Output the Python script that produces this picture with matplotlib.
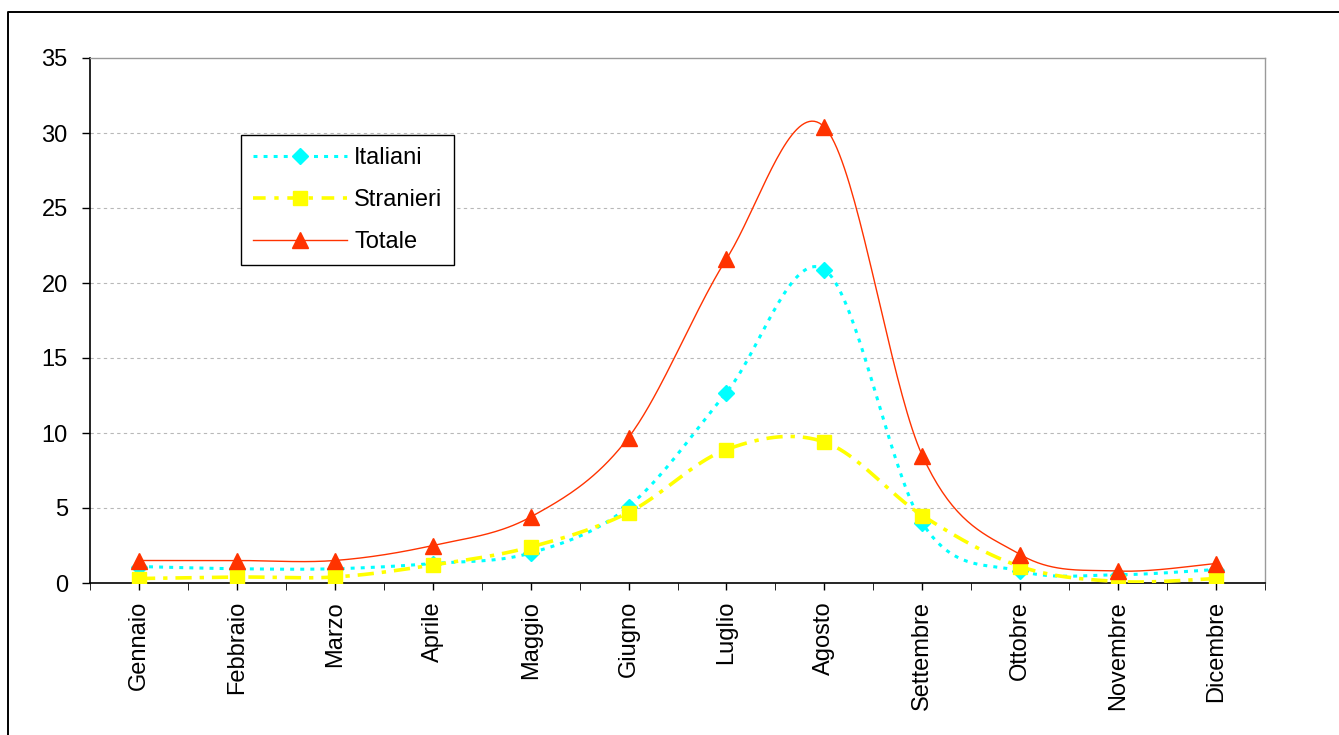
import numpy as np
import matplotlib
matplotlib.use("Agg")
import matplotlib.pyplot as plt
from matplotlib.lines import Line2D

# Monthly series (percent)
mesi = ["Gennaio", "Febbraio", "Marzo", "Aprile", "Maggio", "Giugno",
        "Luglio", "Agosto", "Settembre", "Ottobre", "Novembre", "Dicembre"]
italiani = [1.1, 0.95, 0.95, 1.3, 2.0, 5.1, 12.7, 20.9, 4.0, 0.8, 0.55, 0.9]
stranieri = [0.3, 0.4, 0.4, 1.2, 2.4, 4.7, 8.9, 9.4, 4.5, 1.1, 0.1, 0.3]
totale = [1.5, 1.5, 1.5, 2.5, 4.4, 9.7, 21.6, 30.4, 8.5, 1.9, 0.8, 1.3]
y_ticks = [0, 5, 10, 15, 20, 25, 30, 35]

plt.rcParams["font.family"] = ["Liberation Sans", "DejaVu Sans"]


def smooth_curve(x, y, steps=40):
    """Cubic Bezier smoothing through every point (Catmull-Rom style)."""
    x = np.asarray(x, float)
    y = np.asarray(y, float)
    px = np.concatenate([[x[0]], x, [x[-1]]])
    py = np.concatenate([[y[0]], y, [y[-1]]])
    t = np.linspace(0, 1, steps)
    xs, ys = [], []
    for i in range(1, len(px) - 2):
        x0, x1, x2, x3 = px[i - 1:i + 3]
        y0, y1, y2, y3 = py[i - 1:i + 3]
        c1x, c1y = x1 + (x2 - x0) / 6, y1 + (y2 - y0) / 6
        c2x, c2y = x2 - (x3 - x1) / 6, y2 - (y3 - y1) / 6
        b0 = (1 - t) ** 3
        b1 = 3 * (1 - t) ** 2 * t
        b2 = 3 * (1 - t) * t ** 2
        b3 = t ** 3
        xs.append(b0 * x1 + b1 * c1x + b2 * c2x + b3 * x2)
        ys.append(b0 * y1 + b1 * c1y + b2 * c2y + b3 * y2)
    return np.concatenate(xs), np.concatenate(ys)


W, H = 1339, 735
fig = plt.figure(figsize=(W / 100, H / 100), dpi=100)
ax = fig.add_axes([90 / W, 1 - 583 / H, (1265 - 90) / W, (583 - 58) / H])

x = np.arange(len(mesi))

CYAN = "#00FFFF"
YELLOW = "#FFFF00"
RED = "#FF3300"

# Italiani: dotted cyan with diamonds
sx, sy = smooth_curve(x, italiani)
ax.plot(sx, sy, color=CYAN, lw=2.2, linestyle=(0, (1.3, 2.0)),
        dash_capstyle="butt", zorder=3)
ax.plot(x, italiani, linestyle="none", marker="D", ms=8.5,
        color=CYAN, mec=CYAN, zorder=4)

# Stranieri: dash-dot yellow with squares
sx, sy = smooth_curve(x, stranieri)
ax.plot(sx, sy, color=YELLOW, lw=2.6, linestyle=(0, (4.5, 2.2, 1.2, 2.2)),
        dash_capstyle="butt", zorder=5)
ax.plot(x, stranieri, linestyle="none", marker="s", ms=10.5,
        color=YELLOW, mec=YELLOW, zorder=6)

# Totale: thin red line with triangles
sx, sy = smooth_curve(x, totale)
ax.plot(sx, sy, color=RED, lw=1.0, zorder=7)
ax.plot(x, totale, linestyle="none", marker="^", ms=12,
        color=RED, mec=RED, zorder=8)

ax.set_xlim(-0.5, len(mesi) - 0.5)
ax.set_ylim(0, 35)
ax.set_yticks(y_ticks)
ax.set_yticklabels([str(v) for v in y_ticks])
ax.set_xticks(x)
ax.set_xticklabels(mesi, rotation=90)
ax.set_xticks(np.arange(-0.5, len(mesi), 1.0), minor=True)

ax.tick_params(axis="both", labelsize=17, colors="black", width=1)
ax.tick_params(axis="y", direction="out", length=6, pad=10)
ax.tick_params(axis="x", which="both", direction="out", length=5, pad=8)

for v in y_ticks[1:-1]:
    ax.axhline(v, color="#B8B8B8", lw=0.8, linestyle=(0, (3, 3)), zorder=1)

ax.spines["left"].set_color("black")
ax.spines["bottom"].set_color("black")
ax.spines["left"].set_linewidth(1.2)
ax.spines["bottom"].set_linewidth(1.2)
for s in ("top", "right"):
    ax.spines[s].set_color("#9A9A9A")
    ax.spines[s].set_linewidth(1.0)

handles = [
    Line2D([], [], color=CYAN, lw=2.2, linestyle=(0, (1.3, 2.0)),
           marker="D", ms=8.5, mec=CYAN, dash_capstyle="butt"),
    Line2D([], [], color=YELLOW, lw=2.6, linestyle=(0, (3.5, 2.4, 1.2, 2.4)),
           marker="s", ms=10.5, mec=YELLOW, dash_capstyle="butt"),
    Line2D([], [], color=RED, lw=1.0, marker="^", ms=12, mec=RED),
]
leg = fig.legend(handles, ["Italiani", "Stranieri", "Totale"],
                 loc="upper left", bbox_to_anchor=(241 / W, 1 - 135 / H),
                 bbox_transform=fig.transFigure, borderaxespad=0,
                 fontsize=17, frameon=True, fancybox=False, shadow=False,
                 handlelength=4.0, handletextpad=0.3, labelspacing=0.85,
                 borderpad=0.5)
leg.get_frame().set_edgecolor("black")
leg.get_frame().set_linewidth(1.0)
leg.get_frame().set_facecolor("white")
leg.get_frame().set_alpha(1)

# Outer chart frame (left and top edges)
fig.add_artist(Line2D([8 / W, 8 / W, 1.0], [0.0, 1 - 12 / H, 1 - 12 / H],
                      transform=fig.transFigure, color="black", lw=1.4))

fig.savefig("out.png", dpi=100)
